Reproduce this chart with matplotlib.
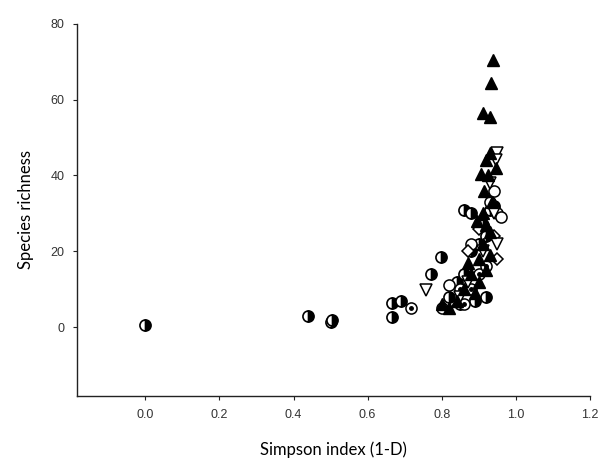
import matplotlib
matplotlib.use("Agg")
import matplotlib.pyplot as plt
import numpy as np

# Simpson index (1-D) vs species richness, one array pair per marker group
tri_up_x = [0.938, 0.932, 0.910, 0.930, 0.930, 0.920, 0.905, 0.925, 0.915, 0.935,
            0.920, 0.910, 0.930, 0.900, 0.920, 0.870, 0.880, 0.860, 0.840, 0.900,
            0.890, 0.930, 0.910, 0.800, 0.820, 0.945, 0.895]
tri_up_y = [70.5, 64.5, 56.5, 55.5, 46.0, 44.0, 40.5, 40.0, 36.0, 33.0,
            27.0, 22.0, 25.0, 18.0, 15.0, 17.0, 14.0, 10.0, 7.0, 12.0,
            9.0, 19.0, 30.0, 6.0, 5.0, 42.0, 28.0]

tri_down_x = [0.950, 0.945, 0.757, 0.930, 0.910, 0.940, 0.870, 0.850, 0.950]
tri_down_y = [46.0, 44.0, 9.8, 38.0, 20.0, 30.0, 12.0, 8.0, 22.0]

half_x = [0.000, 0.438, 0.500, 0.505, 0.667, 0.667, 0.690, 0.797, 0.770, 0.860,
          0.880, 0.930, 0.910, 0.940, 0.920, 0.840, 0.860, 0.880, 0.900, 0.820,
          0.850, 0.920, 0.890]
half_y = [0.5, 3.0, 1.3, 2.0, 6.3, 2.6, 7.0, 18.5, 14.0, 31.0,
          30.0, 31.0, 27.0, 32.0, 24.0, 12.0, 14.0, 20.0, 22.0, 8.0,
          6.0, 8.0, 7.0]

target_x = [0.716, 0.880, 0.860, 0.900, 0.920, 0.850]
target_y = [5.0, 10.0, 6.0, 14.0, 16.0, 10.0]

ring_x = [0.950, 0.940, 0.930, 0.960, 0.880, 0.820, 0.800]
ring_y = [30.0, 36.0, 33.0, 29.0, 22.0, 11.0, 5.0]

diamond_x = [0.950, 0.940, 0.870, 0.900]
diamond_y = [18.0, 24.0, 20.0, 26.0]

x_ticks = [0.0, 0.2, 0.4, 0.6, 0.8, 1.0, 1.2]
x_tick_labels = ["0.0", "0.2", "0.4", "0.6", "0.8", "1.0", "1.2"]
y_ticks = [0, 20, 40, 60, 80]

fig = plt.figure(figsize=(6.07, 4.59), dpi=100)
ax = fig.add_axes([0.127, 0.137, 0.845, 0.811])

ms = 8
ax.plot(half_x, half_y, "o", ms=ms, mfc="black", mfcalt="white",
        fillstyle="right", mec="black", mew=1.2)
ax.plot(ring_x, ring_y, "o", ms=ms, mfc="white", mec="black", mew=1.1)
ax.plot(target_x, target_y, "o", ms=ms, mfc="white", mec="black", mew=1.1)
ax.plot(target_x, target_y, "o", ms=2.5, mfc="black", mec="black")
ax.plot(diamond_x, diamond_y, "D", ms=6, mfc="white", mec="black", mew=1.1)
ax.plot(tri_down_x, tri_down_y, "v", ms=ms, mfc="white", mec="black", mew=1.1)
ax.plot(tri_up_x, tri_up_y, "^", ms=ms, mfc="black", mec="black")

ax.set_xlim(-0.184, 1.2)
ax.set_ylim(-18.2, 80)
ax.set_xticks(x_ticks, x_tick_labels)
ax.set_yticks(y_ticks)

for side in ("top", "right"):
    ax.spines[side].set_visible(False)
for side in ("left", "bottom"):
    ax.spines[side].set_linewidth(1.0)
    ax.spines[side].set_color("#222222")

ax.tick_params(direction="out", length=3, width=0.8, colors="#222222",
               labelsize=9, labelcolor="#333333", pad=6)
for lab in ax.get_xticklabels() + ax.get_yticklabels():
    lab.set_family("Liberation Sans")

ax.set_xlabel("Simpson index (1-D)", family="Lato", fontsize=12, labelpad=15)
ax.set_ylabel("Species richness", family="Lato", fontsize=12, labelpad=12)

fig.savefig("out.png", dpi=100)
